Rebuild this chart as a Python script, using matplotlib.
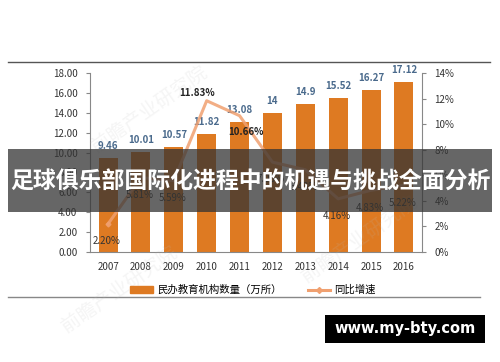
import matplotlib
matplotlib.use("Agg")
import matplotlib.pyplot as plt
from matplotlib.patches import Rectangle
from matplotlib.lines import Line2D

plt.rcParams['font.family'] = ['Noto Sans CJK SC', 'DejaVu Sans']

years = ['2007', '2008', '2009', '2010', '2011', '2012', '2013', '2014', '2015', '2016']
counts = [9.46, 10.01, 10.57, 11.82, 13.08, 14, 14.9, 15.52, 16.27, 17.12]
count_labels = ['9.46', '10.01', '10.57', '11.82', '13.08', '14', '14.9', '15.52', '16.27', '17.12']
growth = [2.20, 5.81, 5.59, 11.83, 10.66, 7.03, 6.43, 4.16, 4.83, 5.22]
left_ticks = [0, 2, 4, 6, 8, 10, 12, 14, 16, 18]
right_ticks = [0, 2, 4, 6, 8, 10, 12, 14]

W, H = 500, 362
fig = plt.figure(figsize=(W / 100, H / 100), dpi=100)
fig.patch.set_facecolor('white')

def fx(px):
    return px / W

def fy(py):
    return 1 - py / H

ax = fig.add_axes([fx(90), fy(252), fx(422) - fx(90), fy(73) - fy(252)])
x = list(range(len(years)))
ax.bar(x, counts, width=0.58, color='#DE7A22', zorder=2)
ax.set_ylim(0, 18)
ax.set_xlim(-0.55, len(years) - 0.45)
ax.set_yticks(left_ticks)
ax.set_yticklabels([f'{v:.2f}' for v in left_ticks], fontsize=7, color='#333333')
ax.set_xticks(x)
ax.set_xticklabels(years, fontsize=7, color='#333333')
for s in ['top', 'right']:
    ax.spines[s].set_visible(False)
ax.spines['left'].set_color('#888888')
ax.spines['bottom'].set_color('#888888')
ax.tick_params(axis='y', length=3, color='#888888', pad=6)
ax.tick_params(axis='x', length=0, pad=7)

for xi, v, lbl in zip(x, counts, count_labels):
    ax.text(xi, v + 0.7, lbl, ha='center', va='bottom', fontsize=7,
            color='#4A6A8C', fontweight='bold', zorder=5)

ax2 = ax.twinx()
ax2.set_ylim(0, 14)
ax2.set_yticks(right_ticks)
ax2.set_yticklabels([f'{v}%' for v in right_ticks], fontsize=7, color='#333333')
for s in ['top', 'left', 'bottom']:
    ax2.spines[s].set_visible(False)
ax2.spines['right'].set_color('#888888')
ax2.tick_params(axis='y', length=3, color='#888888', pad=6)
ax2.plot(x, growth, color='#F0A070', lw=2.2, alpha=0.85, marker='D', ms=2.5,
         markevery=[0], zorder=3)

for xi, g in zip(x, growth):
    if g == 11.83:
        ax2.text(xi - 0.3, g + 0.25, f'{g:.2f}%', ha='center', va='bottom',
                 fontsize=7, fontweight='bold', color='#222222', zorder=5)
    elif g == 10.66:
        ax2.text(xi + 0.2, g - 1.3, f'{g:.2f}%', ha='center', va='center',
                 fontsize=7, fontweight='bold', color='#222222', zorder=5)
    else:
        ax2.text(xi - 0.05, g - 1.35, f'{g:.2f}%', ha='center', va='center',
                 fontsize=7, color='#333333', zorder=5)

# legend
h1 = Rectangle((0, 0), 1, 1, color='#DE7A22')
h2 = Line2D([0], [0], color='#F0A070', lw=2.2, marker='D', ms=3)
fig.legend([h1, h2], ['民办教育机构数量（万所）', '同比增速'], loc='center',
           bbox_to_anchor=(fx(253), fy(290)), ncol=2, frameon=False,
           fontsize=7.5, handlelength=2.2, columnspacing=2.5, handletextpad=0.4)

# frame lines
fig.add_artist(Line2D([fx(8), fx(490)], [fy(62), fy(62)], color='#555555', lw=1))
fig.add_artist(Line2D([fx(8), fx(480)], [fy(297), fy(297)], color='#888888', lw=1))

# faint watermarks
for (wx, wy) in [(150, 110), (360, 240), (120, 290)]:
    fig.text(fx(wx), fy(wy), '前瞻产业研究院', fontsize=14, color='#bbbbbb',
             alpha=0.15, rotation=35, ha='center', va='center')

# banner
fig.add_artist(Rectangle((fx(8), fy(212)), fx(492) - fx(8), fy(149) - fy(212),
                         transform=fig.transFigure, facecolor=(0.2, 0.2, 0.2),
                         alpha=0.75, edgecolor='none', zorder=10))
fig.text(0.5, fy(182), '足球俱乐部国际化进程中的机遇与挑战全面分析', ha='center',
         va='center', fontsize=16.5, fontweight='bold', color='white', zorder=11)

# site box
fig.add_artist(Rectangle((fx(325), fy(343)), fx(485) - fx(325), fy(315) - fy(343),
                         transform=fig.transFigure, facecolor='black',
                         edgecolor='none', zorder=10))
fig.text(fx(405), fy(329), 'www.my-bty.com', ha='center', va='center',
         fontsize=10.5, fontweight='bold', color='white', zorder=11,
         family=['DejaVu Sans'])

fig.savefig('out.png', dpi=100)
